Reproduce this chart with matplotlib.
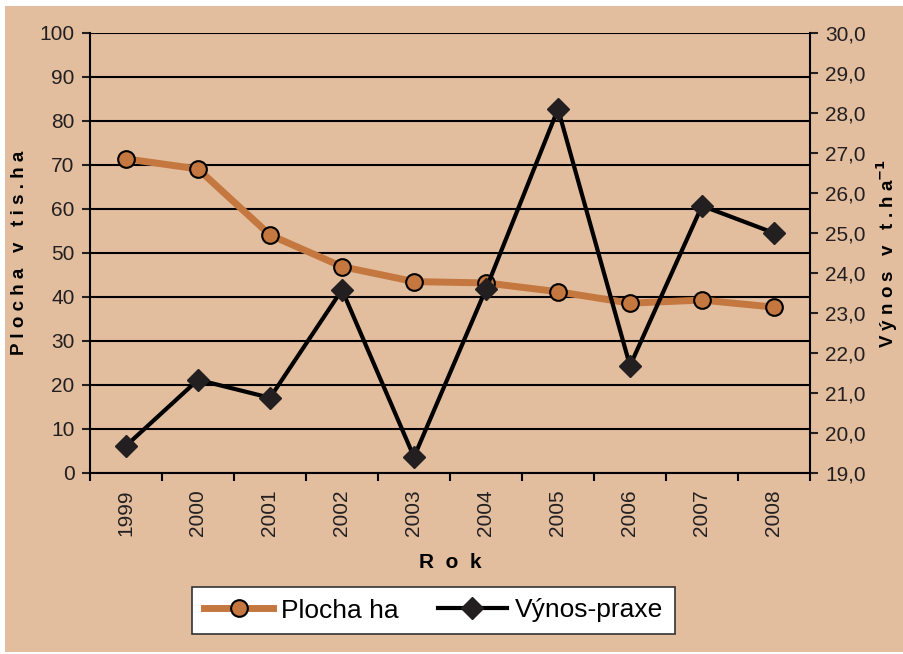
import matplotlib.pyplot as plt
from matplotlib.patches import Rectangle

roky = ['1999', '2000', '2001', '2002', '2003', '2004', '2005', '2006', '2007', '2008']
plocha = [71.4, 69.1, 54.1, 46.9, 43.5, 43.2, 41.2, 38.6, 39.3, 37.7]
vynos = [19.68, 21.33, 20.88, 23.58, 19.4, 23.6, 28.1, 21.68, 25.68, 25.0]

bg = '#E2BE9F'
oranzova = '#C47840'

plt.rcParams['font.family'] = ['Liberation Sans', 'DejaVu Sans']

fig = plt.figure(figsize=(9.04, 6.54), dpi=100)
fig.patches.append(Rectangle((5 / 904, 0.003), 1, 1 - 6 / 654 - 0.003,
                             transform=fig.transFigure, facecolor=bg,
                             edgecolor='none', zorder=-10))

ax = fig.add_axes([90 / 904, 1 - 473 / 654, 720 / 904, 440 / 654])
ax.set_facecolor(bg)
ax2 = ax.twinx()

x = list(range(len(roky)))

ax.plot(x, plocha, color=oranzova, lw=5, marker='o', ms=12,
        mfc=oranzova, mec='black', mew=1.5, label='Plocha ha', zorder=3)
ax2.plot(x, vynos, color='black', lw=3, marker='D', ms=11,
         mfc='#231F20', mec='#231F20', label='Výnos-praxe', zorder=4)

ax.set_xlim(-0.5, 9.5)
ax.set_ylim(0, 100)
ax.set_yticks(range(0, 101, 10))
ax2.set_ylim(19, 30)
ax2.set_yticks(range(19, 31))
ax2.set_yticklabels([f'{v:.1f}'.replace('.', ',') for v in range(19, 31)])

ax.set_xticks(x)
ax.set_xticklabels(roky, rotation=90)
ax.set_xticks([i - 0.5 for i in range(len(roky) + 1)], minor=True)
ax.tick_params(axis='x', which='major', length=0, pad=12, labelsize=15, colors='#231F20')
ax.tick_params(axis='x', which='minor', length=6, width=1.5, direction='out')
ax.tick_params(axis='y', length=6, width=1.5, labelsize=15, pad=5, colors='#231F20')
ax2.tick_params(axis='y', length=6, width=1.5, labelsize=15, pad=5, colors='#231F20')

ax.grid(axis='y', color='black', lw=1.5)
ax.set_axisbelow(True)
ax.spines['top'].set_visible(False)
ax2.spines['top'].set_visible(False)
ax2.spines['left'].set_visible(False)
ax2.spines['bottom'].set_visible(False)
for s in ['left', 'bottom']:
    ax.spines[s].set_linewidth(1.5)
ax.spines['right'].set_visible(False)
ax2.spines['right'].set_linewidth(1.5)

ax.set_xlabel('R  o  k', fontsize=15, fontweight='bold', labelpad=12)
ax.set_ylabel('P l o c h a   v   t i s . h a', fontsize=13.5, fontweight='bold', labelpad=8)
ax2.set_ylabel('V ý n o s   v   t . h a$^{\\mathbf{-1}}$', fontsize=13.5,
               fontweight='bold', labelpad=6)

h1, l1 = ax.get_legend_handles_labels()
h2, l2 = ax2.get_legend_handles_labels()
leg = fig.legend(h1 + h2, l1 + l2, loc='center', bbox_to_anchor=(433.5 / 904, 1 - 610.5 / 654),
                 ncol=2, fontsize=19, frameon=True, fancybox=False,
                 facecolor='white', framealpha=1,
                 edgecolor='#333333', handlelength=2.6, columnspacing=1.5,
                 borderpad=0.45, handletextpad=0.3, borderaxespad=0)
leg.get_frame().set_linewidth(1.2)

fig.savefig('out.png', dpi=100, facecolor='white')
